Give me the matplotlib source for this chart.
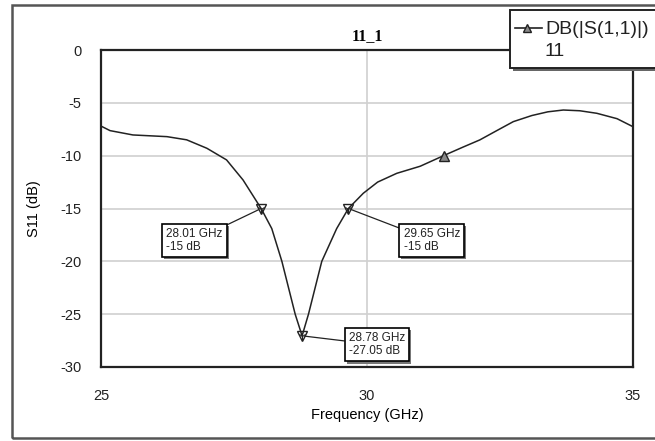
#!/usr/bin/env python3

import matplotlib
matplotlib.use("Agg")
import matplotlib.pyplot as plt
import matplotlib.patheffects as pe
from matplotlib.patches import Rectangle
from matplotlib.lines import Line2D

plt.rcParams["font.family"] = ["Liberation Sans", "DejaVu Sans"]
plt.rcParams["axes.unicode_minus"] = False

# S11 trace
freq_ghz = [25.0, 25.17, 25.6, 26.24, 26.61, 26.99, 27.36, 27.67, 28.01,
            28.21, 28.40, 28.65, 28.78, 28.90, 29.15, 29.43, 29.65,
            29.93, 30.2, 30.56, 31.0, 31.47, 31.8, 32.12, 32.45, 32.75,
            33.1, 33.4, 33.69, 34.0, 34.32, 34.7, 35.0]
s11_db = [-7.2, -7.63, -8.04, -8.2, -8.5, -9.3, -10.4, -12.3, -15.0,
          -16.9, -20.0, -25.0, -27.05, -25.0, -20.0, -16.9, -15.0,
          -13.56, -12.5, -11.67, -11.0, -9.93, -9.2, -8.51, -7.6, -6.78,
          -6.2, -5.85, -5.68, -5.75, -5.99, -6.5, -7.26]

# markers
marker_f = [28.01, 29.65, 28.78]
marker_db = [-15.0, -15.0, -27.05]
marker_text = ["28.01 GHz\n-15 dB", "29.65 GHz\n-15 dB", "28.78 GHz\n-27.05 dB"]
label_offsets = [(-48, -23), (60, -23), (54, -6.5)]  # points

legend_marker_f = 31.45
legend_marker_db = -10.0

x_ticks = [25, 30, 35]
y_ticks = [0, -5, -10, -15, -20, -25, -30]

W, H = 655, 441
fig = plt.figure(figsize=(W / 100, H / 100), dpi=100)


def px(x, y):
    return x / W, 1 - y / H


ax = fig.add_axes([101 / W, 1 - 367 / H, 532 / W, 317 / H])
ax.plot(freq_ghz, s11_db, color="#222222", lw=1.1, zorder=3)
ax.plot([legend_marker_f], [legend_marker_db], marker="^", ms=7,
        mfc="#888888", mec="#222222", mew=1, zorder=4)
ax.plot(marker_f, marker_db, ls="none", marker="v", ms=7, mfc="none",
        mec="#222222", mew=1, zorder=4)
ax.plot(marker_f, marker_db, ls="none", marker="1", ms=6,
        mec="#222222", mew=0.8, zorder=4)

for f, db, txt, off in zip(marker_f, marker_db, marker_text, label_offsets):
    ann = ax.annotate(txt, xy=(f, db), xytext=off, textcoords="offset points",
                      ha="center", va="center", multialignment="left",
                      fontsize=8.5, linespacing=1.1, color="#222222",
                      bbox=dict(boxstyle="square,pad=0.35", fc="white",
                                ec="black", lw=1.2),
                      arrowprops=dict(arrowstyle="-", color="#222222", lw=0.9,
                                      shrinkA=0, shrinkB=2),
                      zorder=6)
    ann.get_bbox_patch().set_path_effects(
        [pe.withSimplePatchShadow(offset=(1.5, -1.5), shadow_rgbFace="#777777",
                                  alpha=1.0)])

ax.set_xlim(25, 35)
ax.set_ylim(-30, 0)
ax.set_xticks(x_ticks)
ax.set_yticks(y_ticks)
ax.tick_params(length=0, labelsize=10.5, pad=14, colors="#222222")
ax.tick_params(axis="x", pad=16)
ax.grid(True, color="#d0d0d0", lw=1.2, zorder=0)
ax.set_axisbelow(True)
for s in ax.spines.values():
    s.set_linewidth(1.6)
    s.set_color("#222222")

ax.set_title("11_1", fontfamily=["Liberation Serif"], fontweight="bold",
             fontsize=11.5, pad=7)
ax.set_xlabel("Frequency (GHz)", fontsize=10.5)
ax.set_ylabel("S11 (dB)", fontsize=10.5)
ax.xaxis.set_label_coords(0.5, -0.13)
ax.yaxis.set_label_coords(-0.113, 0.5)

# outer frame
x0, y0 = px(12, 438)
fig.patches.append(Rectangle((x0, y0), 1.2, (438 - 5) / H,
                             transform=fig.transFigure, fill=False,
                             ec="#555555", lw=1.8, zorder=1))

# legend box, sticking out past the right edge
lx, ly = px(510, 68)
leg = Rectangle((lx, ly), 0.4, 58 / H, transform=fig.transFigure,
                fc="white", ec="#222222", lw=1.4, zorder=8)
leg.set_path_effects([pe.withSimplePatchShadow(offset=(2, -2),
                                               shadow_rgbFace="#666666",
                                               alpha=1.0)])
fig.patches.append(leg)
la, lb = px(515, 28)
lc, _ = px(542, 28)
fig.lines.append(Line2D([la, lc], [lb, lb], transform=fig.transFigure,
                        color="#222222", lw=1.2, zorder=9))
fig.lines.append(Line2D([px(527, 0)[0]], [lb], transform=fig.transFigure,
                        marker="^", ms=6, mfc="#888888", mec="#222222",
                        zorder=10))
fig.text(*px(545, 29), "DB(|S(1,1)|)", fontsize=14, va="center", ha="left",
         color="#222222", zorder=10)
fig.text(*px(545, 52), "11", fontsize=14, va="center", ha="left",
         color="#222222", zorder=10)

fig.savefig("out.png", dpi=100)
